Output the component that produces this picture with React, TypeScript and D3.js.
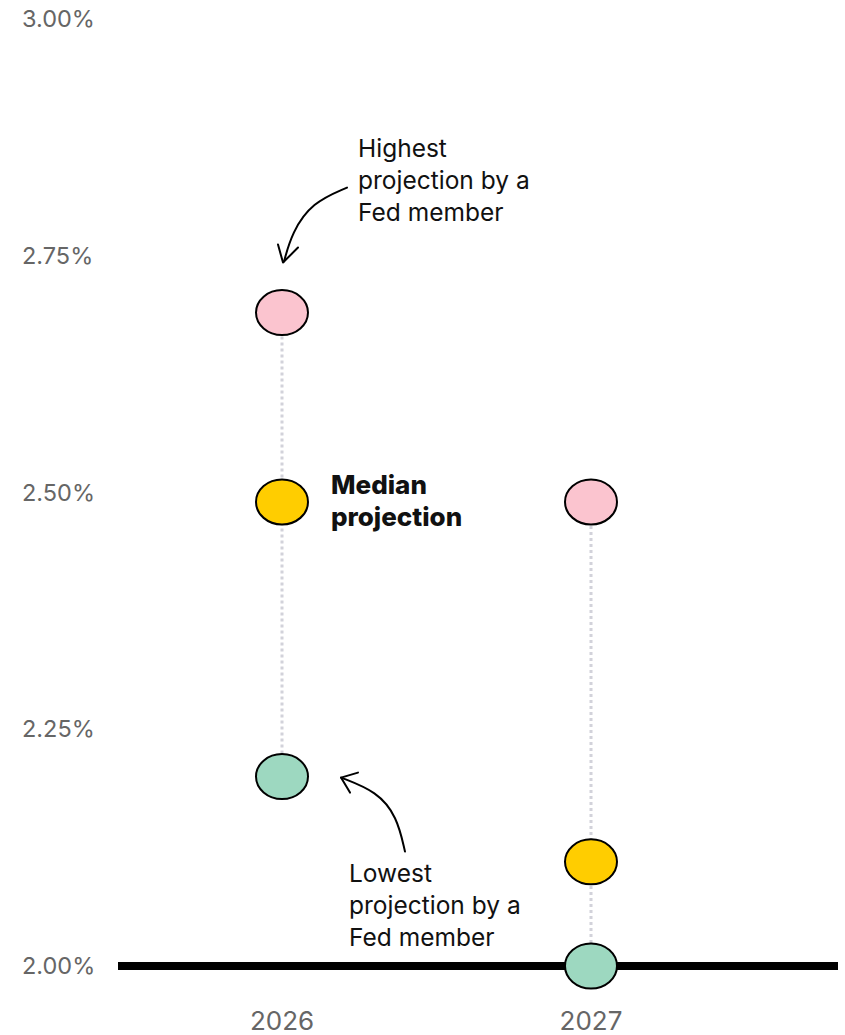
import React from "react";
import * as d3 from "d3";

const years = ["2026", "2027"];
const highest = [2.69, 2.49];
const median = [2.49, 2.11];
const lowest = [2.2, 2.0];
const yTicks = [2.0, 2.25, 2.5, 2.75, 3.0];

const W = 845;
const H = 1035;
const FONT = "Inter, 'Noto Sans', sans-serif";

export default function App() {
  const y = d3.scaleLinear().domain([2, 3]).range([966, 19]);
  const x = d3.scalePoint<string>().domain(years).range([282, 591]);
  const fmt = d3.format(".2f");

  const colors = { high: "#fbc4cf", mid: "#ffcd00", low: "#9dd8c0" };

  const hx = x("2026")!;
  const hy = y(highest[0]);
  const lx = x("2026")!;
  const ly = y(lowest[0]);

  const line = d3.line().curve(d3.curveBasis);
  const topArrow = line([
    [hx + 65, hy - 125],
    [hx + 30, hy - 110],
    [hx + 10, hy - 80],
    [hx + 2, hy - 51],
  ]);
  const botArrow = line([
    [lx + 123, ly + 75],
    [lx + 115, ly + 40],
    [lx + 95, ly + 15],
    [lx + 59, ly + 1],
  ]);

  return (
    <svg width={W} height={H} style={{ position: "absolute", left: 0, top: 0 }}>
      {yTicks.map((t) => (
        <text
          key={t}
          x={22}
          y={y(t)}
          dy="0.35em"
          fontFamily={FONT}
          fontSize={23.5}
          fill="#666"
        >
          {fmt(t)}%
        </text>
      ))}
      <line x1={118} x2={838} y1={y(2)} y2={y(2)} stroke="#000" strokeWidth={8} />
      {years.map((yr, i) => (
        <line
          key={"c" + yr}
          x1={x(yr)}
          x2={x(yr)}
          y1={y(highest[i])}
          y2={y(lowest[i])}
          stroke="#d2d2da"
          strokeWidth={3}
          strokeDasharray="3 3"
        />
      ))}
      {years.map((yr, i) => (
        <g key={"d" + yr}>
          <ellipse cx={x(yr)} cy={y(highest[i])} rx={26} ry={22.5} fill={colors.high} stroke="#000" strokeWidth={2} />
          <ellipse cx={x(yr)} cy={y(median[i])} rx={26} ry={22.5} fill={colors.mid} stroke="#000" strokeWidth={2} />
          <ellipse cx={x(yr)} cy={y(lowest[i])} rx={26} ry={22.5} fill={colors.low} stroke="#000" strokeWidth={2} />
        </g>
      ))}
      {years.map((yr) => (
        <text
          key={"y" + yr}
          x={x(yr)}
          y={1021}
          dy="0.35em"
          textAnchor="middle"
          fontFamily={FONT}
          fontSize={26}
          fill="#666"
        >
          {yr}
        </text>
      ))}
      <g fontFamily={FONT} fontSize={24.5} fill="#111">
        <text x={358} y={148} dy="0.35em">Highest</text>
        <text x={358} y={180} dy="0.35em">projection by a</text>
        <text x={358} y={212} dy="0.35em">Fed member</text>
        <text x={331} y={485} dy="0.35em" fontWeight={800} fontSize={26}>Median</text>
        <text x={331} y={517} dy="0.35em" fontWeight={800} fontSize={26}>projection</text>
        <text x={349} y={873} dy="0.35em">Lowest</text>
        <text x={349} y={905} dy="0.35em">projection by a</text>
        <text x={349} y={937} dy="0.35em">Fed member</text>
      </g>
      <g fill="none" stroke="#000" strokeWidth={2} strokeLinecap="round" strokeLinejoin="round">
        <path d={topArrow || ""} />
        <path d={`M${hx - 4},${hy - 68} L${hx + 1},${hy - 50} L${hx + 16},${hy - 65}`} />
        <path d={botArrow || ""} />
        <path d={`M${lx + 76},${ly - 4} L${lx + 59},${ly + 1} L${lx + 68},${ly + 16}`} />
      </g>
    </svg>
  );
}
